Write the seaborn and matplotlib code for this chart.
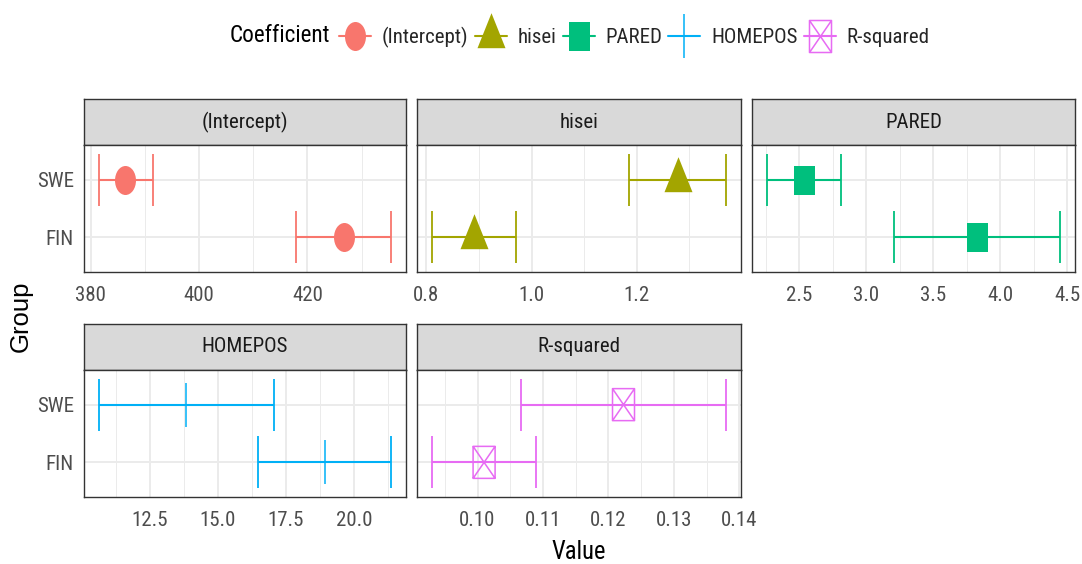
import os
import numpy as np
import pandas as pd
import matplotlib
matplotlib.use("Agg")
import matplotlib.pyplot as plt
from matplotlib.path import Path
from matplotlib.lines import Line2D
from matplotlib.ticker import MultipleLocator, FuncFormatter
from matplotlib.font_manager import FontProperties
from matplotlib.textpath import TextPath
from matplotlib import font_manager as fm
import seaborn as sns

# ---- data -------------------------------------------------------------
coefficients = ["(Intercept)", "hisei", "PARED", "HOMEPOS", "R-squared"]
groups = ["FIN", "SWE"]

estimate_fin = [426.7, 0.891, 3.826, 18.93, 0.1010]
lower_fin = [417.9, 0.810, 3.206, 16.48, 0.0930]
upper_fin = [435.5, 0.970, 4.448, 21.38, 0.1090]

estimate_swe = [386.4, 1.278, 2.533, 13.84, 0.1223]
lower_swe = [381.5, 1.185, 2.257, 10.61, 0.1066]
upper_swe = [391.5, 1.370, 2.808, 17.08, 0.1380]

major_steps = [20, 0.2, 0.5, 2.5, 0.01]
tick_formats = ["{:.0f}", "{:.1f}", "{:.1f}", "{:.1f}", "{:.2f}"]

palette = ["#F8766D", "#A3A500", "#00BF7D", "#00B0F6", "#E76BF3"]

rows = []
for i, c in enumerate(coefficients):
    rows.append(dict(Coefficient=c, Group="FIN", Value=estimate_fin[i],
                     lo=lower_fin[i], hi=upper_fin[i]))
    rows.append(dict(Coefficient=c, Group="SWE", Value=estimate_swe[i],
                     lo=lower_swe[i], hi=upper_swe[i]))
df = pd.DataFrame(rows)
df["ypos"] = df["Group"].map({g: k for k, g in enumerate(groups)})

# ---- fonts: prefer a narrow sans face ---------------------------------
sns.set_theme(style="white")


def pick_narrow_face():
    bad = ("bold", "italic", "oblique", "light", "thin", "black", "medium",
           "semi", "extra", "ultra", "heavy")
    prefs = ("liberation", "arimo", "roboto", "noto", "dejavu", "open", "lato", "")
    found = []
    for f in fm.fontManager.ttflist:
        base = os.path.basename(f.fname).lower()
        if not ("narrow" in base or "condensed" in base):
            continue
        if any(b in base for b in bad):
            continue
        rank = next(k for k, p in enumerate(prefs) if p in base)
        found.append((rank, base, f))
    if not found:
        return None
    found.sort(key=lambda t: (t[0], t[1]))
    return found[0][2]


face = pick_narrow_face()
if face is not None:
    base_family, base_stretch = face.name, face.stretch
else:
    base_family, base_stretch = "Liberation Sans", "normal"
plt.rcParams["font.family"] = [base_family, "DejaVu Sans"]
plt.rcParams["font.stretch"] = base_stretch
base_fp = FontProperties(family=base_family, stretch=base_stretch)

W, H = 1082, 564
DPI = 100
PT = 72.0 / DPI  # points per pixel


def size_for_width(text, width_px, fp=base_fp):
    probe = fp.copy()
    probe.set_size(100)
    w = TextPath((0, 0), text, prop=probe).get_extents().width
    return 100 * width_px * PT / w


TICK_FS = size_for_width("HOMEPOS", 84)
TITLE_FS = size_for_width("Coefficient", 98)
XLAB_FS = size_for_width("Value", 53)

fig = plt.figure(figsize=(W / DPI, H / DPI), dpi=DPI, facecolor="white")


def px_axes(x0, y0, x1, y1, **kw):
    return fig.add_axes([x0 / W, 1 - y1 / H, (x1 - x0) / W, (y1 - y0) / H], **kw)


# ---- marker shapes (vertices in pixels) --------------------------------
def scaled(verts, codes=None):
    verts = np.asarray(verts, float)
    size_pt = 2 * np.abs(verts).max() * PT
    return Path(verts, codes), size_pt


circ = Path.unit_circle()
m_circle = scaled(circ.vertices * [10.5, 14.5], circ.codes)
m_triangle = scaled([[-14, -11.7], [14, -11.7], [0, 23.3], [-14, -11.7]],
                    [Path.MOVETO, Path.LINETO, Path.LINETO, Path.CLOSEPOLY])
m_square = scaled([[-10.5, -14.5], [10.5, -14.5], [10.5, 14.5], [-10.5, 14.5], [-10.5, -14.5]],
                  [Path.MOVETO, Path.LINETO, Path.LINETO, Path.LINETO, Path.CLOSEPOLY])
m_plus = scaled([[-10, 0], [10, 0], [0, -22], [0, 22]],
                [Path.MOVETO, Path.LINETO, Path.MOVETO, Path.LINETO])
bx, by = 11, 16
m_boxx = scaled([[-bx, -by], [bx, -by], [bx, by], [-bx, by], [-bx, -by],
                 [-bx, -by], [bx, by], [-bx, by], [bx, -by]],
                [Path.MOVETO, Path.LINETO, Path.LINETO, Path.LINETO, Path.CLOSEPOLY,
                 Path.MOVETO, Path.LINETO, Path.MOVETO, Path.LINETO])
markers = [m_circle, m_triangle, m_square, m_plus, m_boxx]
filled = [True, True, True, False, False]

# ---- panel layout -----------------------------------------------------
col_x = [(84, 406), (417, 741), (752, 1075)]
row_y = [(99, 145, 272), (324, 370, 497)]

GRID = "#EBEBEB"
DARK = "#333333"

for i, coef in enumerate(coefficients):
    r, c = divmod(i, 3)
    x0, x1 = col_x[c]
    ys, yp, yb = row_y[r]
    color = palette[i]
    sub = df[df["Coefficient"] == coef]

    # strip
    sax = px_axes(x0, ys, x1, yp)
    sax.set_facecolor("#D9D9D9")
    sax.set_xticks([])
    sax.set_yticks([])
    for sp in sax.spines.values():
        sp.set_color(DARK)
        sp.set_linewidth(1.0)
    sax.text(0.5, 0.5, coef, ha="center", va="center", fontsize=TICK_FS,
             color="#1A1A1A", transform=sax.transAxes)

    # panel
    ax = px_axes(x0, yp, x1, yb)
    ax.set_facecolor("white")
    lo_all = sub["lo"].min()
    hi_all = sub["hi"].max()
    pad = 0.05 * (hi_all - lo_all)
    ax.set_xlim(lo_all - pad, hi_all + pad)
    ax.set_ylim(-0.6, len(groups) - 0.4)

    ax.xaxis.set_major_locator(MultipleLocator(major_steps[i]))
    ax.xaxis.set_minor_locator(MultipleLocator(major_steps[i] / 2))
    fmt = tick_formats[i]
    ax.xaxis.set_major_formatter(FuncFormatter(lambda v, p, f=fmt: f.format(v)))
    ax.set_yticks(range(len(groups)))
    ax.set_yticklabels(groups)

    ax.grid(True, which="major", color=GRID, linewidth=1.4, zorder=0)
    ax.grid(True, which="minor", axis="x", color=GRID, linewidth=0.7, zorder=0)
    ax.set_axisbelow(True)

    ax.tick_params(axis="x", which="major", length=4.3, width=0.8, color=DARK,
                   labelsize=TICK_FS, labelcolor="#4D4D4D", pad=6)
    ax.tick_params(axis="x", which="minor", length=0)
    if c == 0:
        ax.tick_params(axis="y", length=4.3, width=0.8, color=DARK,
                       labelsize=TICK_FS, labelcolor="#4D4D4D", pad=3)
    else:
        ax.tick_params(axis="y", length=0, labelleft=False)
    for sp in ax.spines.values():
        sp.set_color(DARK)
        sp.set_linewidth(1.0)
        sp.set_visible(True)

    # intervals
    ax.errorbar(sub["Value"], sub["ypos"],
                xerr=[sub["Value"] - sub["lo"], sub["hi"] - sub["Value"]],
                fmt="none", ecolor=color, elinewidth=1.5, capsize=18.7,
                capthick=1.3, zorder=2)

    # point estimates
    path, size_pt = markers[i]
    if filled[i]:
        sns.scatterplot(data=sub, x="Value", y="ypos", ax=ax, marker=path,
                        s=size_pt ** 2, color=color, edgecolor=color,
                        linewidth=0, zorder=3, legend=False)
    else:
        sns.scatterplot(data=sub, x="Value", y="ypos", ax=ax, marker=path,
                        s=size_pt ** 2, color=color, facecolor="none",
                        edgecolor=color, linewidth=1.1, zorder=3, legend=False)
    ax.set_xlabel("")
    ax.set_ylabel("")

# ---- axis titles ------------------------------------------------------
fig.text(578.5 / W, 1 - 552 / H, "Value", ha="center", va="center",
         fontsize=XLAB_FS, color="black")
fig.text(21 / W, 1 - 316 / H, "Group", ha="center", va="center",
         rotation=90, fontsize=18.5, color="black",
         family=["Liberation Sans", "DejaVu Sans"], fontstretch="normal")

# ---- legend -----------------------------------------------------------
fig.text(230 / W, 1 - 36 / H, "Coefficient", ha="left", va="center",
         fontsize=TITLE_FS, color="black")
handles = []
for i, coef in enumerate(coefficients):
    path, size_pt = markers[i]
    handles.append(Line2D([], [], color=palette[i], linewidth=1.5,
                          marker=path, markersize=size_pt,
                          markerfacecolor=palette[i] if filled[i] else "none",
                          markeredgecolor=palette[i],
                          markeredgewidth=0 if filled[i] else 1.1))
leg_fs_pt = TICK_FS
fig.legend(handles, coefficients, loc="center left",
           bbox_to_anchor=(339 / W, 1 - 37 / H), ncol=5, frameon=False,
           fontsize=leg_fs_pt, handlelength=32 * PT / leg_fs_pt,
           handletextpad=11 * PT / leg_fs_pt,
           columnspacing=6 * PT / leg_fs_pt, borderpad=0, borderaxespad=0)

fig.savefig("out.png", dpi=DPI, facecolor="white")
